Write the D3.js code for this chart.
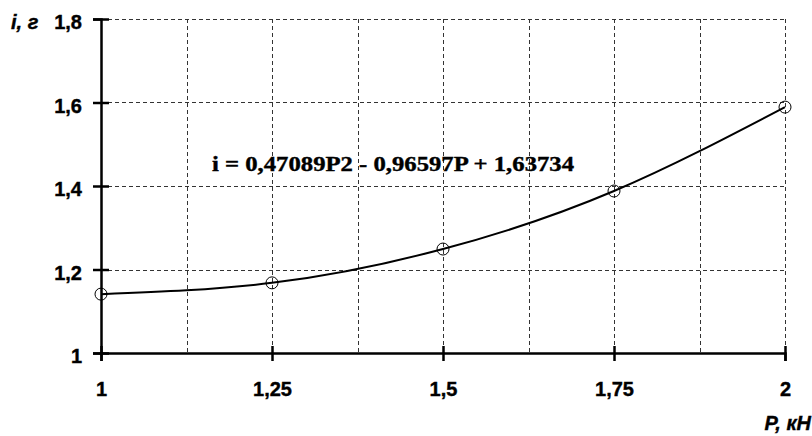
<!DOCTYPE html>
<html>
<head>
<meta charset="utf-8">
<script src="https://cdn.jsdelivr.net/npm/d3@7"></script>
<style>
  body { margin: 0; background: #fff; }
  svg { display: block; }
</style>
</head>
<body>
<div id="chart"></div>
<script>
// measured points P (kN) -> i (g)
var loads = [1, 1.25, 1.5, 1.75, 2];
var values = [1.141, 1.168, 1.249, 1.388, 1.589];

var xTicks = [1, 1.25, 1.5, 1.75, 2];
var yTicks = [1, 1.2, 1.4, 1.6, 1.8];
var xGrid = [1.125, 1.25, 1.375, 1.5, 1.625, 1.75, 1.875, 2];
var yGrid = [1.2, 1.4, 1.6, 1.8];

var equation = "i = 0,47089P2 - 0,96597P + 1,63734";
var yTitle = "i, г";
var xTitle = "P, кН";

var fmt = function(d){ return String(d).replace(".", ","); };

var W = 812, H = 436;
var svg = d3.select("#chart").append("svg").attr("width", W).attr("height", H);

var x = d3.scaleLinear().domain([1, 2]).range([101, 785]);
var y = d3.scaleLinear().domain([1, 1.8]).range([353, 19]);

var grid = svg.append("g")
	.attr("stroke", "#333")
	.attr("stroke-width", 1)
	.attr("stroke-dasharray", "4,3");

grid.selectAll("line.v")
	.data(xGrid)
	.enter().append("line")
	.attr("class", "v")
	.attr("x1", function(d){ return Math.round(x(d)) + 0.5; })
	.attr("x2", function(d){ return Math.round(x(d)) + 0.5; })
	.attr("y1", y(1.8))
	.attr("y2", y(1));

grid.selectAll("line.h")
	.data(yGrid)
	.enter().append("line")
	.attr("class", "h")
	.attr("y1", function(d){ return Math.round(y(d)) + 0.5; })
	.attr("y2", function(d){ return Math.round(y(d)) + 0.5; })
	.attr("x1", x(1))
	.attr("x2", x(2));

// axes
var xAxis = d3.axisBottom(x).tickValues(xTicks).tickFormat(fmt).tickSize(8).tickPadding(21);
var yAxis = d3.axisLeft(y).tickValues(yTicks).tickFormat(fmt).tickSize(8).tickPadding(11);

var gx = svg.append("g").attr("transform", "translate(0," + y(1) + ")").call(xAxis);
var gy = svg.append("g").attr("transform", "translate(" + x(1) + ",0)").call(yAxis);

[gx, gy].forEach(function(g){
	g.select(".domain").attr("stroke", "#000").attr("stroke-width", 2.5);
	g.selectAll(".tick line").attr("stroke", "#000").attr("stroke-width", 2.5);
	g.selectAll(".tick text")
		.attr("fill", "#000")
		.attr("stroke", "#000")
		.attr("stroke-width", 0.4)
		.style("font-family", "'Liberation Sans', Arial, sans-serif")
		.style("font-size", "20px")
		.style("font-weight", "bold");
});
gy.selectAll(".tick text").attr("dy", "0.48em");
// ticks cross the axis line
gx.selectAll(".tick line").attr("y1", -7).attr("y2", 8);
gy.selectAll(".tick line").attr("x1", 8).attr("x2", -8);

// curve through the points
var line = d3.line()
	.x(function(d, i){ return x(loads[i]); })
	.y(function(d){ return y(d); })
	.curve(d3.curveNatural);

svg.append("path")
	.datum(values)
	.attr("fill", "none")
	.attr("stroke", "#000")
	.attr("stroke-width", 2)
	.attr("d", line);

svg.selectAll("circle.pt")
	.data(values)
	.enter().append("circle")
	.attr("class", "pt")
	.attr("cx", function(d, i){ return x(loads[i]); })
	.attr("cy", function(d){ return y(d); })
	.attr("r", 6)
	.attr("fill", "none")
	.attr("stroke", "#000")
	.attr("stroke-width", 1);

svg.append("text")
	.attr("x", 212)
	.attr("y", 171)
	.attr("textLength", 362)
	.attr("lengthAdjust", "spacingAndGlyphs")
	.attr("stroke", "#000")
	.attr("stroke-width", 0.4)
	.style("font-family", "'Liberation Serif', 'Times New Roman', serif")
	.style("font-size", "21px")
	.style("font-weight", "bold")
	.text(equation);

svg.append("text")
	.attr("x", 11)
	.attr("y", 29)
	.attr("stroke", "#000")
	.attr("stroke-width", 0.4)
	.style("font-family", "'Liberation Sans', Arial, sans-serif")
	.style("font-size", "20px")
	.style("font-weight", "bold")
	.style("font-style", "italic")
	.text(yTitle);

svg.append("text")
	.attr("x", 811)
	.attr("y", 430)
	.attr("text-anchor", "end")
	.attr("stroke", "#000")
	.attr("stroke-width", 0.4)
	.style("font-family", "'Liberation Sans', Arial, sans-serif")
	.style("font-size", "20px")
	.style("font-weight", "bold")
	.style("font-style", "italic")
	.text(xTitle);
</script>
</body>
</html>
